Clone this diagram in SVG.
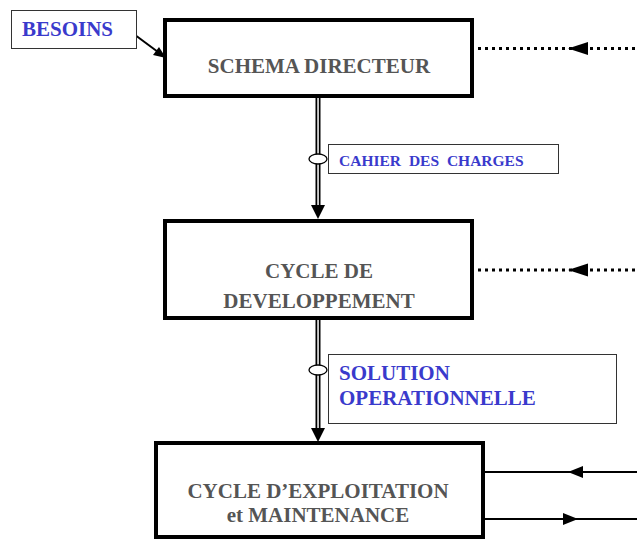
<svg xmlns="http://www.w3.org/2000/svg" width="637" height="539" viewBox="0 0 637 539">
<defs>
<style>
.box{fill:#fff;stroke:#000;stroke-width:4}
.lbl{fill:#fff;stroke:#333;stroke-width:1}
.t{font-family:"Liberation Serif",serif;font-weight:bold;fill:#555;font-size:21px;text-anchor:middle}
.b{font-family:"Liberation Serif",serif;font-weight:bold;fill:#3a3acc}
.dot{stroke:#000;stroke-width:3;stroke-dasharray:3 4;fill:none}
.ln{stroke:#000;stroke-width:2;fill:none}
</style>
</defs>
<rect width="637" height="539" fill="#fff"/>
<g id="connectors">
<line x1="127" y1="29" x2="158" y2="52" class="ln" stroke-width="1.3"/>
<polygon points="166,58 153,55 159,47"/>
<rect x="315.5" y="97" width="5" height="110" fill="#000"/>
<rect x="317.3" y="97" width="1.5" height="110" fill="#fff"/>
<polygon points="311,205 325,205 318,219"/>
<ellipse cx="318" cy="159" rx="9" ry="5" fill="#fff" stroke="#000" stroke-width="1.3"/>
<rect x="315.5" y="319" width="5" height="110" fill="#000"/>
<rect x="317.3" y="319" width="1.5" height="110" fill="#fff"/>
<polygon points="311,428 325,428 318,442"/>
<ellipse cx="318" cy="370" rx="9" ry="5" fill="#fff" stroke="#000" stroke-width="1.3"/>
<line x1="478" y1="48.5" x2="637" y2="48.5" class="dot"/>
<polygon points="568,48.5 588,42 588,55"/>
<line x1="478" y1="270" x2="637" y2="270" class="dot"/>
<polygon points="568,270 588,263.5 588,276.5"/>
<line x1="484" y1="472" x2="637" y2="472" class="ln"/>
<polygon points="568,472 583,466 583,478"/>
<line x1="484" y1="519" x2="637" y2="519" class="ln"/>
<polygon points="578,519 563,513 563,525"/>
</g>
<g id="besoins">
<rect x="11.5" y="10.5" width="125" height="38" class="lbl"/>
<text x="22" y="36" class="b" font-size="21">BESOINS</text>
</g>
<g id="schema">
<rect x="165" y="20" width="307" height="76" class="box"/>
<text x="319" y="73" class="t">SCHEMA DIRECTEUR</text>
</g>
<g id="cahier">
<rect x="328.5" y="144.5" width="230" height="29" class="lbl"/>
<text x="339" y="166" class="b" font-size="15.5" word-spacing="4">CAHIER DES CHARGES</text>
</g>
<g id="developpement">
<rect x="165" y="221" width="307" height="97" class="box"/>
<text x="319" y="278" class="t">CYCLE DE</text>
<text x="319" y="308" class="t">DEVELOPPEMENT</text>
</g>
<g id="solution">
<rect x="328.5" y="354.5" width="288" height="69" class="lbl"/>
<text x="339" y="380" class="b" font-size="21">SOLUTION</text>
<text x="339" y="405" class="b" font-size="21">OPERATIONNELLE</text>
</g>
<g id="exploitation">
<rect x="156" y="443" width="327" height="94" class="box"/>
<text x="318" y="498" class="t">CYCLE D’EXPLOITATION</text>
<text x="318" y="522" class="t">et MAINTENANCE</text>
</g>
</svg>
